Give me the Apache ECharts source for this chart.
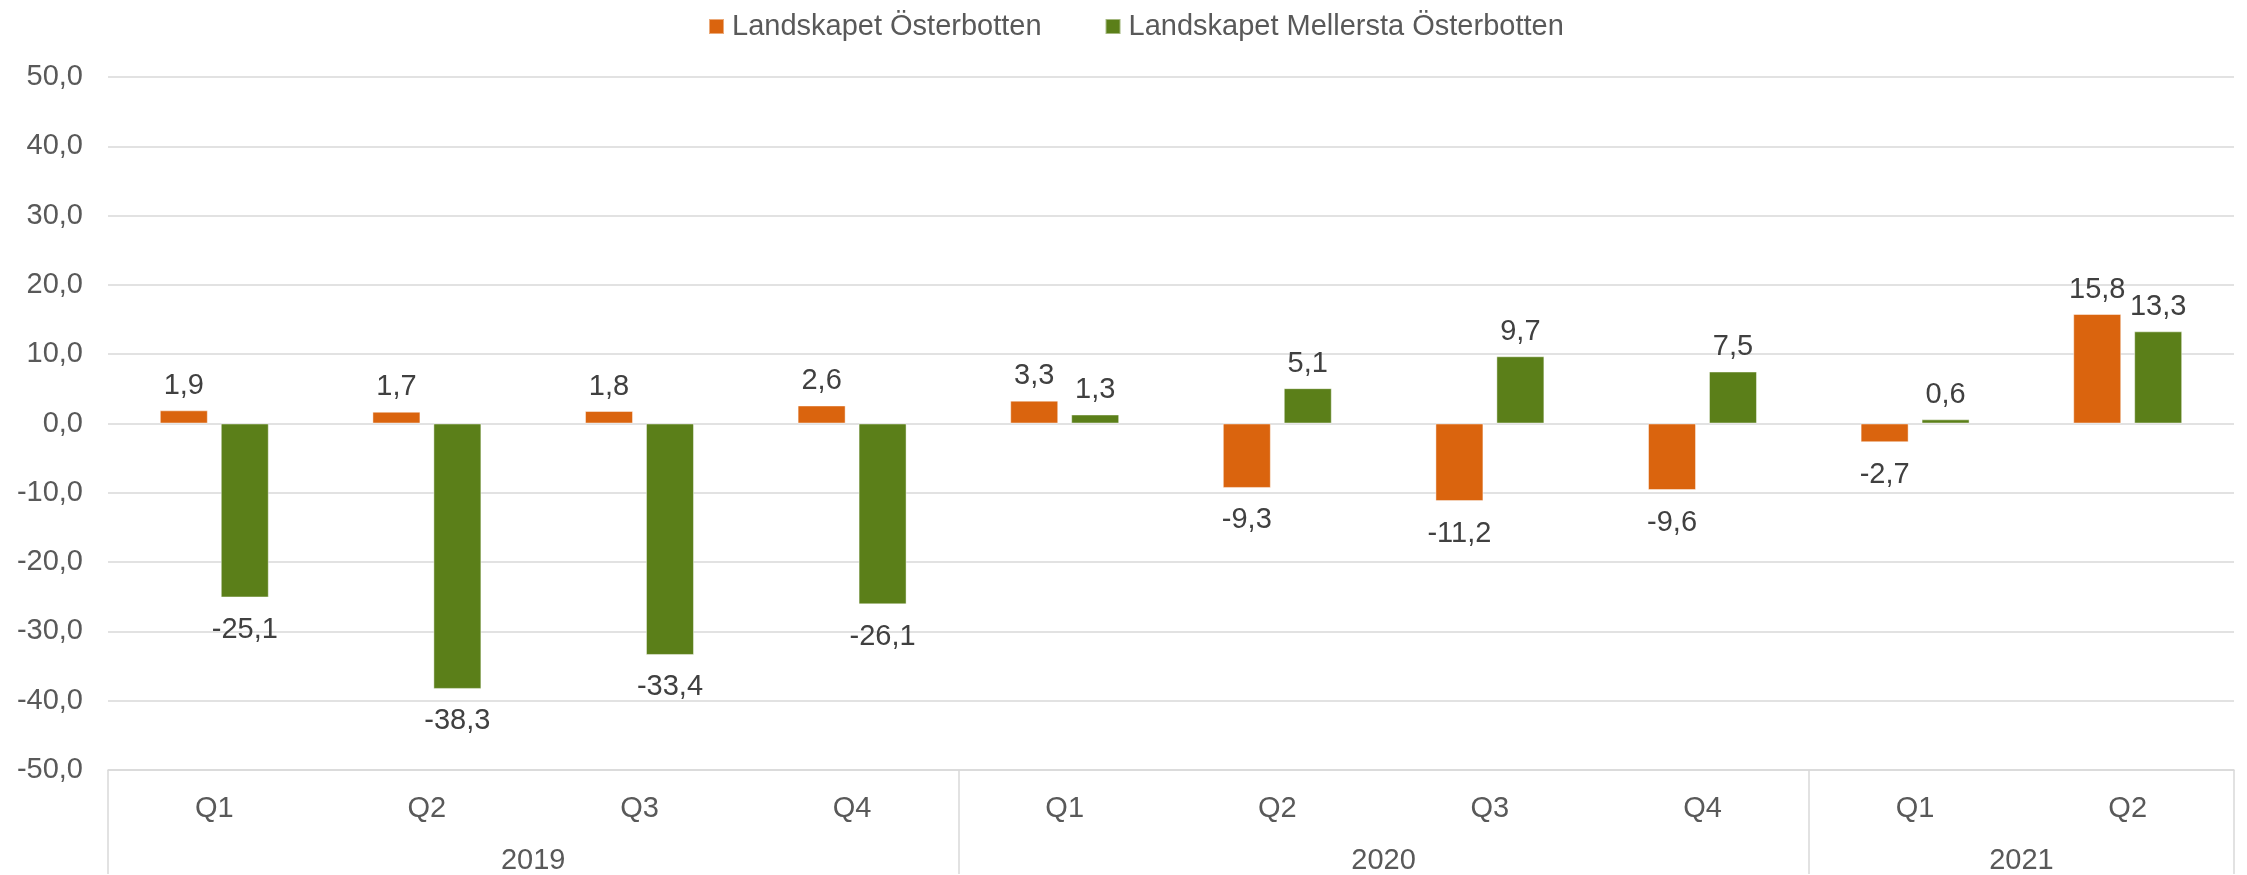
<!DOCTYPE html>
<html>
<head>
<meta charset="utf-8">
<script src="https://cdn.jsdelivr.net/npm/echarts@6/dist/echarts.min.js"></script>
<style>
html,body{margin:0;padding:0;background:#fff;}
#chart{width:2247px;height:875px;}
</style>
</head>
<body>
<div id="chart"></div>
<script>
const quarters = ['Q1','Q2','Q3','Q4','Q1','Q2','Q3','Q4','Q1','Q2'];
const years = ['2019','2020','2021'];
const yearCenters = [2, 6, 9];
const yearBounds = [0, 4, 8, 10];
const seriesNames = ['Landskapet Österbotten','Landskapet Mellersta Österbotten'];
const osterbotten = [1.9, 1.7, 1.8, 2.6, 3.3, -9.3, -11.2, -9.6, -2.7, 15.8];
const mellersta = [-25.1, -38.3, -33.4, -26.1, 1.3, 5.1, 9.7, 7.5, 0.6, 13.3];

const FONT = '"Liberation Sans", Arial, sans-serif';
const fmt = v => v.toFixed(1).replace('.', ',');

function items(arr) {
  return arr.map(v => ({
    value: v,
    label: v >= 0 ? {position: 'top', distance: 10} : {position: 'bottom', distance: 18}
  }));
}

const chart = echarts.init(document.getElementById('chart'));
chart.setOption({
  animation: false,
  textStyle: {fontFamily: FONT},
  legend: {
    left: 703, top: 7,
    itemWidth: 15, itemHeight: 15, itemGap: 63,
    icon: 'rect',
    textStyle: {fontSize: 29, color: '#595959', fontFamily: FONT, padding: [0,0,0,3]},
    data: seriesNames
  },
  grid: {left: 108, right: 13, top: 77, bottom: 104, containLabel: false},
  xAxis: [{
    type: 'category',
    data: quarters,
    position: 'bottom',
    axisLine: {show: true, onZero: false, lineStyle: {color: '#D9D9D9', width: 1.5}},
    axisTick: {show: false},
    axisLabel: {fontSize: 29, color: '#595959', margin: 24, fontFamily: FONT},
    splitLine: {show: false}
  }, {
    type: 'value',
    min: 0, max: 10,
    position: 'bottom',
    axisLine: {show: false, onZero: false},
    axisTick: {show: true, customValues: yearBounds, length: 104, lineStyle: {color: '#D9D9D9', width: 1.5}},
    axisLabel: {
      customValues: yearCenters,
      formatter: v => years[yearCenters.indexOf(v)] || '',
      fontSize: 29, color: '#595959', margin: 76, fontFamily: FONT
    },
    splitLine: {show: false}
  }],
  yAxis: {
    type: 'value',
    min: -50, max: 50, interval: 10,
    axisLine: {show: false},
    axisTick: {show: false},
    axisLabel: {formatter: fmt, fontSize: 29, color: '#595959', margin: 25, fontFamily: FONT},
    splitLine: {lineStyle: {color: '#D9D9D9', width: 1.5}}
  },
  series: [{
    name: seriesNames[0],
    type: 'bar',
    xAxisIndex: 0,
    data: items(osterbotten),
    barWidth: 48,
    barGap: '27%',
    itemStyle: {color: '#DA640E', borderColor: 'rgba(255,255,255,0.45)', borderWidth: 1},
    label: {show: true, formatter: p => fmt(p.value), fontSize: 29, color: '#404040', fontFamily: FONT}
  }, {
    name: seriesNames[1],
    type: 'bar',
    xAxisIndex: 0,
    data: items(mellersta),
    barWidth: 48,
    barGap: '27%',
    itemStyle: {color: '#5B7F19', borderColor: 'rgba(255,255,255,0.45)', borderWidth: 1},
    label: {show: true, formatter: p => fmt(p.value), fontSize: 29, color: '#404040', fontFamily: FONT}
  }]
});
</script>
</body>
</html>
